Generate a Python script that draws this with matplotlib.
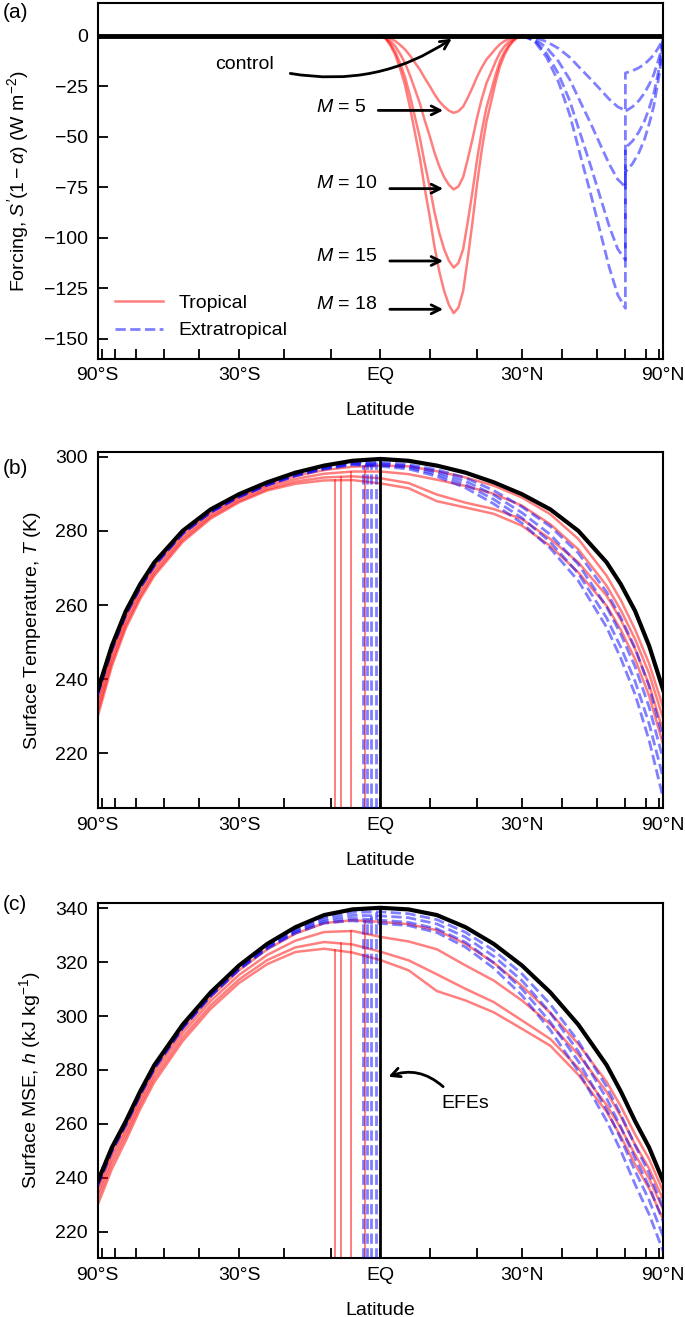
import numpy as np
import matplotlib
matplotlib.use("Agg")
import matplotlib.pyplot as plt
from matplotlib.lines import Line2D

plt.rcParams['font.family'] = ['Liberation Sans', 'DejaVu Sans']
plt.rcParams['mathtext.fontset'] = 'custom'
plt.rcParams['mathtext.rm'] = 'Liberation Sans'
plt.rcParams['mathtext.it'] = 'Liberation Sans:italic'
plt.rcParams['mathtext.bf'] = 'Liberation Sans:bold'

# ---------------- data ----------------
M_values = [5, 10, 15, 18]

# (a) forcing
lat_ctrl_forcing = [-90, 90]
F_control = [0, 0]
lat_trop = list(range(0, 31))
F_trop_5 = [0, -0.4, -1.3, -2.7, -4.6, -6.9, -9.9, -13.4, -16.8, -21.0, -24.8, -29.0, -32.5, -35.1, -37.1, -38.2,
            -37.4, -35.1, -30.6, -25.6, -20.2, -15.7, -11.8, -9.2, -6.5, -4.2, -2.7, -1.5, -0.8, -0.2, 0]
F_trop_10 = [0, -0.8, -2.7, -5.3, -9.1, -13.7, -19.8, -26.6, -33.5, -41.9, -49.5, -57.8, -64.7, -70.0, -73.8, -76.1,
             -74.6, -70.0, -60.9, -51.0, -40.3, -31.2, -23.6, -18.3, -12.9, -8.4, -5.3, -3.0, -1.5, -0.5, 0]
F_trop_15 = [0, -1.1, -4.0, -8.0, -13.8, -20.7, -29.8, -40.2, -50.5, -63.1, -74.6, -87.2, -97.6, -105.6, -111.4, -114.8,
             -112.5, -105.6, -91.8, -76.9, -60.8, -47.1, -35.6, -27.6, -19.5, -12.6, -8.0, -4.6, -2.3, -0.7, 0]
F_trop_18 = [0, -1.4, -4.8, -9.6, -16.5, -24.7, -35.7, -48.1, -60.4, -75.5, -89.2, -104.3, -116.7, -126.3, -133.2, -137.3,
             -134.6, -126.3, -109.8, -92.0, -72.8, -56.3, -42.6, -33.0, -23.3, -15.1, -9.6, -5.5, -2.7, -0.8, 0]

lat_extra = [30, 33, 36, 39, 42, 45, 48, 51, 54, 57, 60, 60, 63, 66, 69, 72, 75, 78, 81, 84, 87, 90]
F_extra_5 = [0, -0.7, -3.0, -6.3, -10.7, -16.3, -21.5, -26.6, -31.5, -35.2, -37.0,
             -18.5, -17.4, -15.9, -14.1, -11.8, -9.6, -7.0, -4.8, -2.6, -0.9, 0]
F_extra_10 = [0, -1.5, -6.0, -12.7, -21.7, -32.9, -43.4, -53.9, -63.6, -71.1, -74.8,
              -37.4, -35.2, -32.2, -28.4, -23.9, -19.4, -14.2, -9.7, -5.2, -1.9, 0]
F_extra_15 = [0, -2.2, -8.9, -18.9, -32.2, -48.8, -64.4, -79.9, -94.4, -105.5, -111.0,
              -55.5, -52.2, -47.7, -42.2, -35.5, -28.9, -21.1, -14.4, -7.8, -2.8, 0]
F_extra_18 = [0, -2.7, -10.8, -22.9, -39.1, -59.4, -78.2, -97.1, -114.7, -128.2, -134.9,
              -67.5, -63.4, -58.0, -51.3, -43.2, -35.1, -25.6, -17.5, -9.4, -3.4, 0]

# (b), (c) latitude grid (degrees)
lat = [-90, -71.8, -64.2, -58.2, -53.1, -44.4, -36.9, -30.0, -23.6, -17.5, -11.5, -5.7, 0,
       5.7, 11.5, 17.5, 23.6, 30.0, 36.9, 44.4, 53.1, 58.2, 64.2, 71.8, 90]

T_control = [237.0, 249.0, 258.4, 265.6, 271.5, 280.0, 285.8, 289.9, 293.1, 295.7, 297.6, 298.9, 299.4,
             298.9, 297.6, 295.7, 293.1, 289.9, 285.8, 280.0, 271.5, 265.6, 258.4, 249.0, 237.0]
T_trop_5 = [234.4, 247.3, 257.0, 264.4, 270.4, 279.1, 285.0, 289.2, 292.4, 294.8, 296.4, 297.3, 297.6,
            297.4, 296.1, 294.4, 292.2, 289.0, 284.5, 277.8, 267.9, 261.3, 253.4, 244.2, 232.3]
T_trop_10 = [232.8, 246.0, 255.9, 263.4, 269.5, 278.3, 284.4, 288.7, 291.9, 294.0, 295.4, 296.0, 296.0,
             295.3, 293.8, 292.1, 290.0, 286.8, 281.8, 275.0, 265.2, 258.6, 250.8, 241.5, 229.3]
T_trop_15 = [231.2, 244.6, 254.7, 262.4, 268.6, 277.6, 283.8, 288.1, 291.3, 293.3, 294.4, 294.7, 294.2,
             292.9, 289.8, 287.6, 285.9, 283.2, 277.8, 271.5, 262.5, 256.0, 248.1, 238.5, 225.8]
T_trop_18 = [229.9, 243.5, 253.8, 261.6, 267.9, 277.0, 283.3, 287.7, 290.9, 292.7, 293.6, 293.7, 292.8,
             291.5, 288.0, 286.3, 284.6, 281.4, 275.9, 268.8, 259.8, 253.3, 245.4, 235.5, 222.3]
T_extra_5 = [236.6, 248.6, 258.1, 265.3, 271.2, 279.7, 285.5, 289.6, 292.8, 295.4, 297.3, 298.5, 298.5,
             297.9, 296.5, 294.3, 290.9, 286.5, 281.2, 274.0, 263.5, 256.6, 248.4, 238.0, 223.8]
T_extra_10 = [236.3, 248.4, 257.8, 265.0, 271.0, 279.5, 285.3, 289.4, 292.6, 295.2, 297.0, 298.2, 298.1,
              297.5, 295.9, 293.4, 289.7, 284.9, 279.0, 271.0, 259.5, 252.1, 243.4, 232.5, 218.3]
T_extra_15 = [236.0, 248.1, 257.6, 264.8, 270.7, 279.3, 285.1, 289.2, 292.4, 294.9, 296.8, 298.0, 297.8,
              297.1, 295.3, 292.5, 288.5, 283.5, 277.0, 268.5, 256.5, 248.6, 239.4, 228.0, 213.3]
T_extra_18 = [235.8, 247.9, 257.4, 264.6, 270.6, 279.2, 285.0, 289.1, 292.3, 294.8, 296.6, 297.8, 297.4,
              296.7, 294.7, 291.6, 287.3, 282.1, 275.3, 266.5, 254.0, 245.6, 235.9, 223.5, 207.8]

h_control = [238.6, 251.2, 261.0, 272.0, 281.8, 296.8, 308.8, 318.8, 326.8, 333.0, 337.5, 339.6, 340.2,
             339.6, 337.5, 333.0, 326.8, 318.8, 308.8, 296.8, 281.8, 272.0, 261.0, 251.2, 238.6]
h_trop_5 = [236.1, 248.9, 259.0, 270.2, 280.1, 295.2, 307.1, 317.0, 324.8, 330.6, 334.5, 335.6, 335.0,
            334.1, 331.9, 326.8, 319.8, 311.2, 301.2, 289.6, 275.6, 266.5, 256.1, 246.9, 234.9]
h_trop_10 = [234.1, 247.1, 257.3, 268.6, 278.6, 293.7, 305.6, 315.3, 322.7, 328.0, 331.2, 331.6, 329.4,
             327.7, 324.8, 318.8, 313.2, 305.8, 297.0, 285.7, 271.9, 262.7, 252.3, 243.4, 231.8]
h_trop_15 = [232.1, 245.2, 255.6, 267.0, 277.0, 292.1, 304.0, 313.6, 320.8, 325.5, 327.5, 326.6, 323.9,
             320.7, 315.5, 310.1, 305.2, 298.4, 291.5, 280.7, 267.0, 258.4, 248.6, 239.7, 228.1]
h_trop_18 = [229.9, 243.2, 253.8, 265.4, 275.5, 290.7, 302.7, 312.3, 319.3, 323.8, 325.0, 323.6, 320.8,
             317.0, 309.3, 305.8, 301.4, 295.3, 289.0, 278.2, 264.5, 255.3, 244.9, 236.0, 224.4]
h_extra_5 = [238.1, 250.8, 260.6, 271.6, 281.4, 296.4, 308.4, 318.3, 326.3, 332.4, 336.7, 338.5, 338.7,
             338.0, 335.8, 331.1, 324.4, 315.7, 304.4, 290.6, 273.8, 263.4, 252.0, 241.7, 228.6]
h_extra_10 = [237.7, 250.4, 260.2, 271.2, 281.0, 296.0, 308.0, 317.9, 325.8, 331.8, 335.9, 337.4, 337.2,
              336.5, 334.2, 329.3, 322.2, 313.2, 301.2, 286.9, 269.4, 258.8, 247.2, 236.8, 223.6]
h_extra_15 = [237.3, 250.0, 259.9, 270.9, 280.7, 295.7, 307.6, 317.5, 325.4, 331.3, 335.2, 336.3, 335.6,
              334.8, 332.4, 327.4, 319.8, 310.1, 297.8, 283.2, 265.3, 254.4, 242.5, 231.7, 218.1]
h_extra_18 = [237.0, 249.7, 259.6, 270.6, 280.4, 295.4, 307.3, 317.2, 325.0, 330.8, 334.5, 335.4, 334.4,
              333.6, 331.0, 325.6, 317.8, 307.7, 294.8, 279.5, 261.1, 250.0, 237.5, 226.4, 212.6]

# energy flux equator positions (degrees)
EFE_control = 0.0
EFE_trop = [-3.2, -5.9, -8.1, -9.3]
EFE_extra = [-1.0, -1.9, -2.7, -3.5]

xtick_locs = list(range(-90, 91, 10))
xtick_labels = {-90: '90°S', -30: '30°S', 0: 'EQ', 30: '30°N', 90: '90°N'}

# ---------------- styling ----------------
RED = (1, 0, 0, 0.5)
BLUE = (0, 0, 1, 0.5)
FS = 14
LW_RED = 1.8
LW_BLUE = 2.0
LW_CTRL = 3.0


def fwd(x):
    return np.sin(np.deg2rad(x))


def inv(y):
    return np.rad2deg(np.arcsin(np.clip(y, -1, 1)))


def style_axis(ax):
    ax.set_xscale('function', functions=(fwd, inv))
    ax.set_xlim(-90, 90)
    ax.set_xticks(xtick_locs)
    ax.set_xticklabels([xtick_labels.get(t, '') for t in xtick_locs])
    ax.tick_params(axis='both', direction='in', length=7.5, width=1.3, labelsize=FS)
    ax.tick_params(axis='x', pad=6)
    ax.tick_params(axis='y', pad=7)
    ax.tick_params(top=False, right=False)
    for sp in ax.spines.values():
        sp.set_linewidth(1.5)
    ax.set_xlabel('Latitude', fontsize=FS, labelpad=13)


fig = plt.figure(figsize=(6.85, 13.17), dpi=100)
ax_a = fig.add_axes([0.1426, 0.7274, 0.8257, 0.2701])
ax_b = fig.add_axes([0.1426, 0.3863, 0.8257, 0.2703])
ax_c = fig.add_axes([0.1426, 0.0446, 0.8257, 0.2700])

# ---------------- (a) ----------------
style_axis(ax_a)
for F in [F_trop_5, F_trop_10, F_trop_15, F_trop_18]:
    ax_a.plot(lat_trop, F, color=RED, lw=LW_RED, zorder=2)
for F in [F_extra_5, F_extra_10, F_extra_15, F_extra_18]:
    ax_a.plot(lat_extra, F, color=BLUE, lw=LW_BLUE, ls='--', zorder=2)
ax_a.plot(lat_ctrl_forcing, F_control, color='k', lw=LW_CTRL + 0.5, zorder=4)
ax_a.set_ylim(-160, 16)
ax_a.set_yticks([0, -25, -50, -75, -100, -125, -150])
ax_a.set_ylabel("Forcing, $S'(1-\\alpha)$ (W m$^{-2}$)", fontsize=FS, labelpad=9)

handles = [Line2D([], [], color=RED, lw=LW_RED),
           Line2D([], [], color=BLUE, lw=LW_BLUE, ls='--')]
ax_a.legend(handles, ['Tropical', 'Extratropical'], loc='lower left',
            bbox_to_anchor=(0.03, 0.055), frameon=False, fontsize=FS,
            handlelength=2.5, handletextpad=0.8, borderpad=0, borderaxespad=0,
            labelspacing=0.5)

arrow_kw = dict(arrowstyle='->', lw=2.0, color='k', mutation_scale=16)
ax_a.annotate('', xy=(14.6, -1.5), xytext=(-18.6, -18.7),
              arrowprops=dict(connectionstyle='arc3,rad=0.2', shrinkA=0, shrinkB=0, **arrow_kw))
ax_a.text(-35.8, -14.3, 'control', fontsize=FS, ha='left', va='center')

M_text_y = [-35.5, -73.2, -109.4, -133.2]
M_arrow_y = [-37.0, -75.7, -111.5, -135.4]
M_arrow_x0 = [-0.45, 1.9, 1.9, 1.9]
for M, ty, ay, ax0 in zip(M_values, M_text_y, M_arrow_y, M_arrow_x0):
    ax_a.text(-13.2, ty, f'$M$ = {M}', fontsize=FS, ha='left', va='center')
    ax_a.annotate('', xy=(12.8, ay), xytext=(ax0, ay),
                  arrowprops=dict(shrinkA=0, shrinkB=0, **arrow_kw))

# ---------------- (b) & (c) ----------------
def draw_state(ax, ctrl, trop, extra, ylim):
    ax.set_ylim(*ylim)
    ybot = ylim[0]
    lat_arr = np.array(lat)
    for y in trop:
        ax.plot(lat, y, color=RED, lw=LW_RED, zorder=2)
    for y in extra:
        ax.plot(lat, y, color=BLUE, lw=LW_BLUE, ls='--', zorder=3)
    ax.plot(lat, ctrl, color='k', lw=LW_CTRL, zorder=5)
    s = np.sin(np.deg2rad(lat_arr))
    for e, y in zip(EFE_trop, trop):
        top = np.interp(np.sin(np.deg2rad(e)), s, y)
        ax.plot([e, e], [ybot, top], color=RED, lw=1.4, zorder=2)
    for e, y in zip(EFE_extra, extra):
        top = np.interp(np.sin(np.deg2rad(e)), s, y)
        ax.plot([e, e], [ybot, top], color=BLUE, lw=LW_BLUE, ls='--', zorder=3)
    top = np.interp(0.0, s, ctrl)
    ax.plot([EFE_control, EFE_control], [ybot, top], color='k', lw=2.0, zorder=5)


style_axis(ax_b)
draw_state(ax_b, T_control, [T_trop_5, T_trop_10, T_trop_15, T_trop_18],
           [T_extra_5, T_extra_10, T_extra_15, T_extra_18], (205.2, 301.2))
ax_b.set_yticks([220, 240, 260, 280, 300])
ax_b.set_ylabel('Surface Temperature, $T$ (K)', fontsize=FS, labelpad=9)

style_axis(ax_c)
draw_state(ax_c, h_control, [h_trop_5, h_trop_10, h_trop_15, h_trop_18],
           [h_extra_5, h_extra_10, h_extra_15, h_extra_18], (210.1, 342.1))
ax_c.set_yticks([220, 240, 260, 280, 300, 320, 340])
ax_c.set_ylabel('Surface MSE, $h$ (kJ kg$^{-1}$)', fontsize=FS, labelpad=9)
ax_c.annotate('', xy=(1.6, 277.5), xytext=(12.8, 273.8),
              arrowprops=dict(connectionstyle='arc3,rad=0.3', shrinkA=0, shrinkB=0, **arrow_kw))
ax_c.text(12.5, 267.4, 'EFEs', fontsize=FS, ha='left', va='center')

# panel labels
fig.text(0.004, 1 - 12 / 1317, '(a)', fontsize=FS + 1, ha='left', va='center')
fig.text(0.004, 1 - 469 / 1317, '(b)', fontsize=FS + 1, ha='left', va='center')
fig.text(0.004, 1 - 904 / 1317, '(c)', fontsize=FS + 1, ha='left', va='center')

fig.savefig('out.png', dpi=100)
